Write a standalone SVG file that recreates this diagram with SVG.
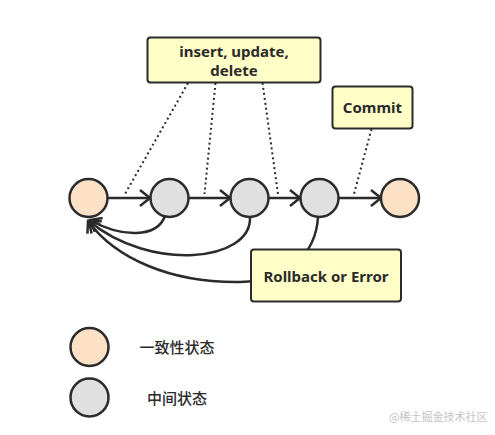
<svg xmlns="http://www.w3.org/2000/svg" width="495" height="435" viewBox="0 0 495 435">
<style>
.c{stroke:#2b2b2b;stroke-width:2.5}
.ok{fill:#fde1c7}
.mid{fill:#e0e0e0}
.box{fill:#ffffc7;stroke:#2b2b2b;stroke-width:2}
.t{font-family:"Noto Sans","Liberation Sans",sans-serif;font-weight:bold;font-size:15px;fill:#2b2b2b;text-anchor:middle}
.cn{font-family:"Noto Sans CJK SC",sans-serif;font-size:15px;font-weight:500;fill:#2b2b2b}
.ln{fill:none;stroke:#2b2b2b;stroke-width:2.5}
.dot{fill:none;stroke:#2b2b2b;stroke-width:2;stroke-dasharray:2 3}
</style>
<defs>
<marker id="a" markerUnits="userSpaceOnUse" markerWidth="20" markerHeight="20" refX="13" refY="10" orient="auto">
<path d="M3 2 L13 10 L3 18" fill="none" stroke="#2b2b2b" stroke-width="2.5"/>
</marker>
</defs>
<g id="connectors">
<line class="ln" x1="107.5" y1="198" x2="150" y2="198" marker-end="url(#a)"/>
<line class="ln" x1="188.5" y1="198" x2="230" y2="198" marker-end="url(#a)"/>
<line class="ln" x1="268.5" y1="198" x2="300" y2="198" marker-end="url(#a)"/>
<line class="ln" x1="338.5" y1="198" x2="381" y2="198" marker-end="url(#a)"/>
<path class="ln" d="M165 216 C157 238 122 238 90 220" marker-end="url(#a)"/>
<path class="ln" d="M250 217 C252 262 150 272 89 221" marker-end="url(#a)"/>
<path class="ln" d="M318 217 C316 252 290 281 240 282 C170 283 115 258 88 221" marker-end="url(#a)"/>
<line class="dot" x1="188" y1="83" x2="125" y2="194"/>
<line class="dot" x1="215.5" y1="83" x2="204.5" y2="194"/>
<line class="dot" x1="262.5" y1="83" x2="278" y2="194"/>
<line class="dot" x1="371.5" y1="129" x2="354" y2="194"/>
</g>
<g id="s0"><circle class="c ok" cx="88.5" cy="198" r="19"/></g>
<g id="s1"><circle class="c mid" cx="169.5" cy="198" r="19"/></g>
<g id="s2"><circle class="c mid" cx="249.5" cy="198" r="19"/></g>
<g id="s3"><circle class="c mid" cx="319.5" cy="198" r="19"/></g>
<g id="s4"><circle class="c ok" cx="400" cy="198" r="19"/></g>
<g id="ops"><rect class="box" x="147.5" y="37.5" width="173" height="45" rx="3"/>
<text class="t" x="234" y="56.5">insert, update,</text>
<text class="t" x="234" y="75.5">delete</text></g>
<g id="commit"><rect class="box" x="332.5" y="86.5" width="80" height="42" rx="3"/>
<text class="t" x="372.5" y="112.5">Commit</text></g>
<g id="rollback"><rect class="box" x="251" y="249.5" width="150" height="52" rx="3"/>
<text class="t" x="326" y="282">Rollback or Error</text></g>
<g id="legend-ok"><circle class="c ok" cx="89.5" cy="347" r="19"/>
<text class="cn" x="139.5" y="353">一致性状态</text></g>
<g id="legend-mid"><circle class="c mid" cx="89.5" cy="397.5" r="19"/>
<text class="cn" x="147" y="403.5">中间状态</text></g>
<text x="389" y="421" font-family="Noto Sans CJK SC,sans-serif" font-size="11" fill="#c4c4c4">@稀土掘金技术社区</text>
</svg>
